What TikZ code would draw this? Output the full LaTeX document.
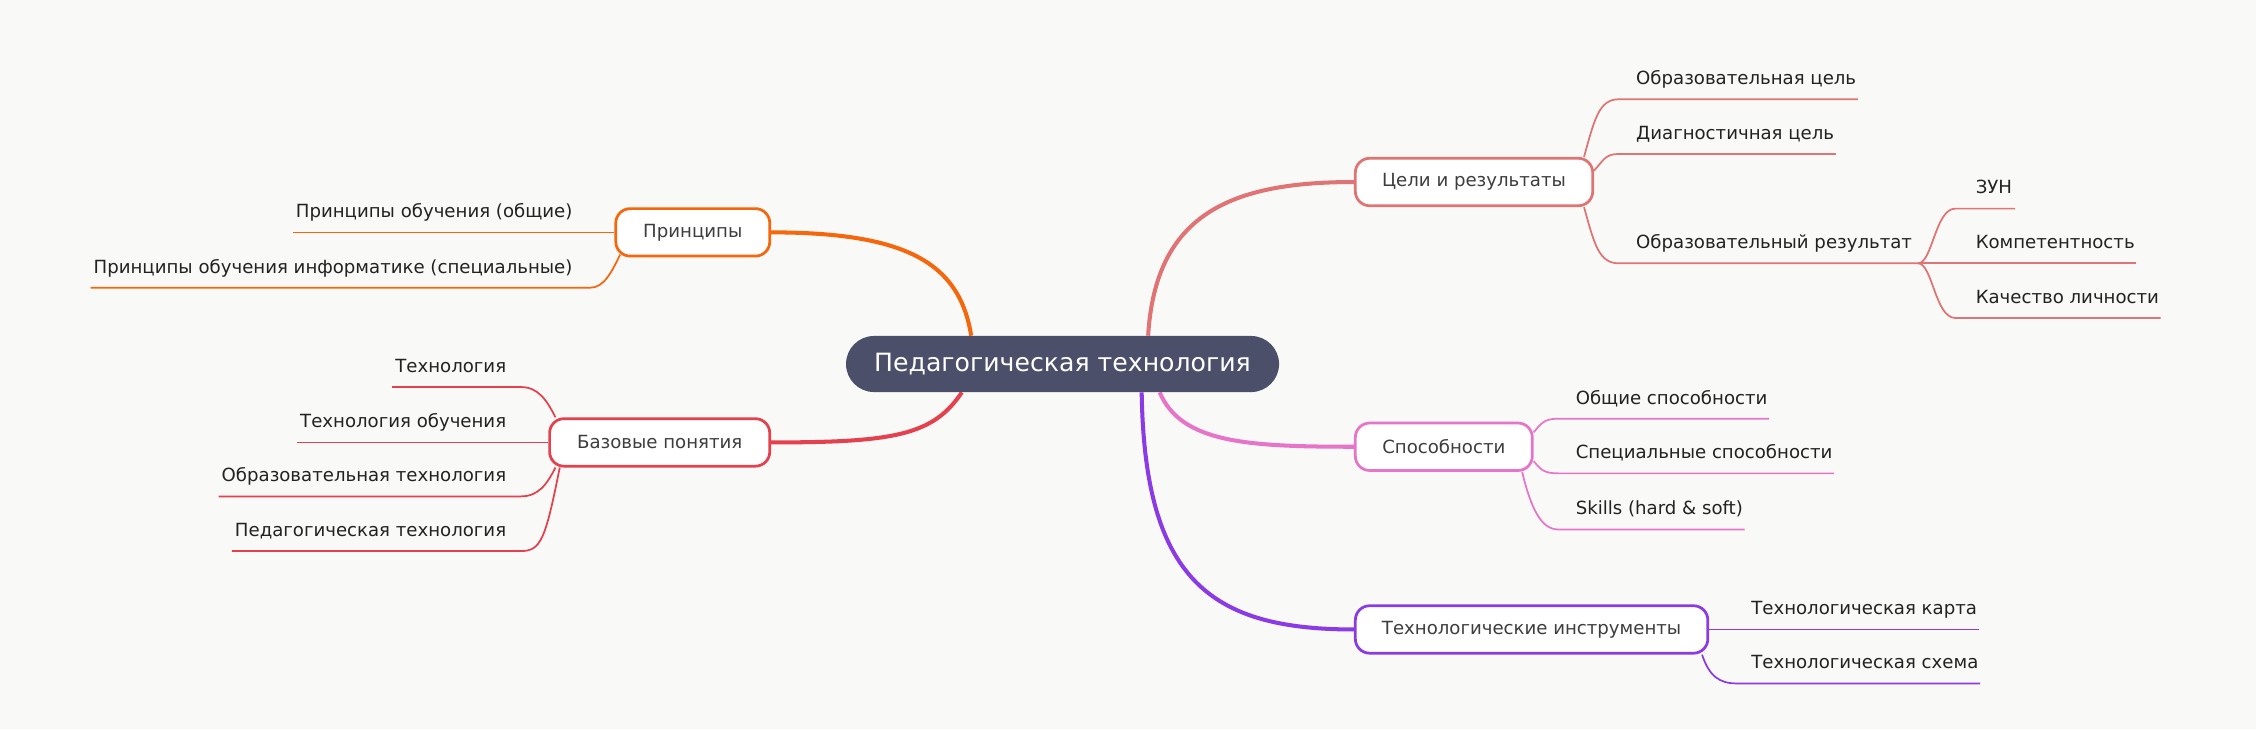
\documentclass[tikz,border=0pt]{standalone}
\usepackage{fontspec}
\setmainfont{DejaVu Sans}
\usetikzlibrary{backgrounds,calc}

\definecolor{paper}{HTML}{F9F9F7}
\definecolor{hubfill}{HTML}{4B4F6A}
\definecolor{princ}{HTML}{F5660D}
\definecolor{basec}{HTML}{E4404E}
\definecolor{goalc}{HTML}{E07373}
\definecolor{abilc}{HTML}{E675C9}
\definecolor{toolc}{HTML}{8B3BE6}
\definecolor{inkc}{HTML}{222222}
\definecolor{boxink}{HTML}{3D3D3D}

\begin{document}
\begin{tikzpicture}[x=1pt,y=-1pt,
  hub/.style={rounded corners=19.5pt,fill=hubfill,text=white,minimum width=301pt,minimum height=39pt,inner sep=0pt,font=\fontsize{17.5}{20}\selectfont},
  topic/.style={draw,line width=1.9pt,rounded corners=10pt,fill=white,text=boxink,minimum height=33pt,inner sep=0pt,font=\fontsize{12.6}{15}\selectfont},
  lleaf/.style={anchor=south east,inner sep=0pt,text depth=10pt,text=inkc,font=\fontsize{12.6}{15}\selectfont},
  rleaf/.style={anchor=south west,inner sep=0pt,text depth=10pt,text=inkc,font=\fontsize{12.6}{15}\selectfont},
  trunk/.style={line width=2.8pt},
  twig/.style={line width=1.2pt}]

\useasboundingbox (0,0) rectangle (1568,507);

% centre and main topics
\node (hub) [hub] at (738.5,253) {Педагогическая технология};
\node (prin) [topic,draw=princ,minimum width=107pt] at (481.5,161.5) {Принципы};
\node (base) [topic,draw=basec,minimum width=153pt] at (458.5,307.5) {Базовые понятия};
\node (goals) [topic,draw=goalc,minimum width=165pt] at (1024.5,126.5) {Цели и результаты};
\node (abil) [topic,draw=abilc,minimum width=123pt] at (1003.5,310.5) {Способности};
\node (tools) [topic,draw=toolc,minimum width=245pt] at (1064.5,437.5) {Технологические инструменты};

% left leaves
\node (pr1) [lleaf] at (398,161.5) {Принципы обучения (общие)};
\node (pr2) [lleaf] at (398,200) {Принципы обучения информатике (специальные)};
\node (b1) [lleaf] at (352,269) {Технология};
\node (b2) [lleaf] at (352,307.5) {Технология обучения};
\node (b3) [lleaf] at (352,345) {Образовательная технология};
\node (b4) [lleaf] at (352,383) {Педагогическая технология};

% right leaves
\node (g1) [rleaf] at (1137,69) {Образовательная цель};
\node (g2) [rleaf] at (1137,107) {Диагностичная цель};
\node (g3) [rleaf] at (1137,183) {Образовательный результат};
\node (g31) [rleaf] at (1373,145) {ЗУН};
\node (g32) [rleaf] at (1373,183) {Компетентность};
\node (g33) [rleaf] at (1373,221) {Качество личности};
\node (a1) [rleaf] at (1095,291) {Общие способности};
\node (a2) [rleaf] at (1095,329) {Специальные способности};
\node (a3) [rleaf] at (1095,368) {Skills (hard \& soft)};
\node (t1) [rleaf] at (1217,437.5) {Технологическая карта};
\node (t2) [rleaf] at (1217,475) {Технологическая схема};

\coordinate (resj) at ([xshift=4pt]g3.south east);

\begin{scope}[on background layer]
\fill [paper] (0,0) rectangle (1568,507);

\draw [trunk,princ] ([xshift=-63.5pt]hub.north) .. controls +(-8,-50) and +(95,0) .. (prin.east);
\draw [trunk,basec] ([xshift=-70pt]hub.south) .. controls +(-20,30) and +(85,0) .. (base.east);
\draw [trunk,goalc] ([xshift=59.5pt]hub.north) .. controls +(5,-85) and +(-85,0) .. (goals.west);
\draw [trunk,abilc] ([xshift=67.5pt]hub.south) .. controls +(15,35) and +(-75,0) .. (abil.west);
\draw [trunk,toolc] ([xshift=55pt]hub.south) .. controls +(2,130) and +(-100,0) .. (tools.west);

\draw [twig,princ] (prin.west) -- ([xshift=-2pt]pr1.south west);
\draw [twig,princ] ([xshift=4pt,yshift=2pt]prin.south west) .. controls +(-6,12) and +(10,0) .. ([xshift=12pt]pr2.south east) -- ([xshift=-2pt]pr2.south west);

\draw [twig,basec] ([xshift=5pt]base.north west) .. controls +(-6,-12) and +(12,0) .. ([xshift=10pt]b1.south east) -- ([xshift=-2pt]b1.south west);
\draw [twig,basec] (base.west) -- ([xshift=-2pt]b2.south west);
\draw [twig,basec] ([xshift=5pt]base.south west) .. controls +(-6,12) and +(12,0) .. ([xshift=10pt]b3.south east) -- ([xshift=-2pt]b3.south west);
\draw [twig,basec] ([xshift=8pt]base.south west) .. controls +(-10,50) and +(14,0) .. ([xshift=10pt]b4.south east) -- ([xshift=-2pt]b4.south west);

\draw [twig,goalc] ([xshift=-7pt]goals.north east) .. controls +(7,-25) and +(-14,0) .. ([xshift=-12pt]g1.south west) -- ([xshift=1pt]g1.south east);
\draw [twig,goalc] ([yshift=8pt]goals.east) .. controls +(6,-6) and +(-10,0) .. ([xshift=-12pt]g2.south west) -- ([xshift=1pt]g2.south east);
\draw [twig,goalc] ([xshift=-7pt]goals.south east) .. controls +(7,25) and +(-14,0) .. ([xshift=-12pt]g3.south west) -- (resj);
\draw [twig,goalc] (resj) .. controls +(10,0) and +(-14,0) .. ([xshift=-14pt]g31.south west) -- ([xshift=2pt]g31.south east);
\draw [twig,goalc] (resj) -- ([xshift=1pt]g32.south east);
\draw [twig,goalc] (resj) .. controls +(10,0) and +(-14,0) .. ([xshift=-14pt]g33.south west) -- ([xshift=1pt]g33.south east);

\draw [twig,abilc] ([yshift=10pt]abil.east) .. controls +(5,-6) and +(-10,0) .. ([xshift=-12pt]a1.south west) -- ([xshift=1pt]a1.south east);
\draw [twig,abilc] ([yshift=-10pt]abil.east) .. controls +(5,6) and +(-10,0) .. ([xshift=-12pt]a2.south west) -- ([xshift=1pt]a2.south east);
\draw [twig,abilc] ([xshift=-8pt]abil.south east) .. controls +(6,25) and +(-12,0) .. ([xshift=-12pt]a3.south west) -- ([xshift=1pt]a3.south east);

\draw [twig,toolc] (tools.east) -- ([xshift=1pt]t1.south east);
\draw [twig,toolc] ([xshift=-5pt]tools.south east) .. controls +(5,15) and +(-12,0) .. ([xshift=-10pt]t2.south west) -- ([xshift=1pt]t2.south east);
\end{scope}
\end{tikzpicture}
\end{document}
